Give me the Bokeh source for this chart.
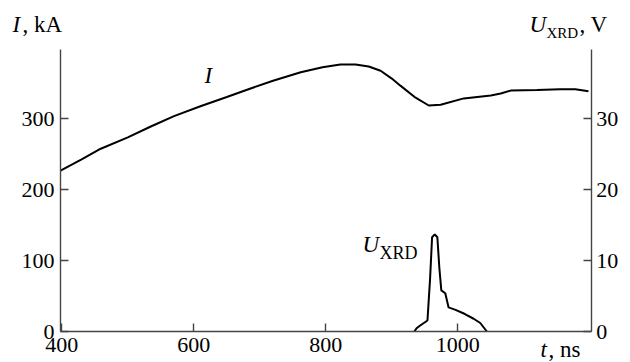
from bokeh.plotting import figure
from bokeh.models import Range1d, LinearAxis, FixedTicker, Label
from bokeh.embed import file_html
from bokeh.resources import INLINE

# Current I (kA) vs time t (ns)
t_I = [398, 430, 459, 500, 534, 570, 610, 650, 686, 720, 762, 795, 822, 845, 865, 883, 900, 913, 936, 956,
       974, 1009, 1050, 1065, 1080, 1120, 1155, 1178, 1198]
I_kA = [227, 243, 258, 274, 289, 304, 318, 331, 343, 354, 366, 373, 377, 377, 374, 368, 357, 347, 330, 319,
        320, 329, 333, 336, 340, 341, 342, 342, 339]

# XRD signal U (V) vs time t (ns)
t_U = [934, 938, 943, 954, 958, 961, 965, 969, 972, 975, 981, 986, 996.5, 1010, 1024, 1034, 1044]
U_V = [0, 0.5, 0.85, 1.55, 7.5, 13.3, 13.7, 13.3, 9.0, 5.8, 5.4, 3.4, 3.06, 2.5, 1.8, 1.2, 0]

x_ticks = [400, 600, 800, 1000]
yl_ticks = [0, 100, 200, 300]
yr_ticks = [0, 10, 20, 30]

FONT = "Liberation Serif"
X0, X1 = 398, 1202        # time axis extent
Y0, Y1 = 0, 398           # current axis extent (kA); voltage = /10

# frame covers the whole canvas; axes are fixed at their data positions
KX = 0.66                 # px per ns
KY = 0.7085               # px per kA
LEFT_PX, BOTTOM_PX = 60, 331
W, H = 630, 362
xr = Range1d(X0 - LEFT_PX / KX, X0 + (W - LEFT_PX) / KX)
yr = Range1d((BOTTOM_PX - H) / KY, BOTTOM_PX / KY)

p = figure(width=W, height=H, output_backend="svg", toolbar_location=None,
           x_range=xr, y_range=yr, x_axis_type=None, y_axis_type=None,
           min_border=0, min_border_left=0, min_border_right=0,
           min_border_top=0, min_border_bottom=0)
p.extra_y_ranges = {"u": Range1d(yr.start / 10, yr.end / 10)}
p.outline_line_color = None
p.background_fill_color = "white"
p.border_fill_color = "white"
p.title.visible = False

def style_axis(ax, ticks):
    ax.ticker = FixedTicker(ticks=ticks)
    ax.minor_tick_line_color = None
    ax.major_tick_in = 8
    ax.major_tick_out = 0
    ax.axis_line_color = "#444444"
    ax.axis_line_width = 1.4
    ax.major_tick_line_color = "#444444"
    ax.major_tick_line_width = 1.4
    ax.major_label_text_font = FONT
    ax.major_label_text_font_size = "22px"
    ax.major_label_text_color = "black"

xa = LinearAxis(fixed_location=0, bounds=(X0, X1))
style_axis(xa, x_ticks)
xa.major_label_standoff = 6
p.add_layout(xa, "below")

la = LinearAxis(fixed_location=X0, bounds=(Y0, Y1))
style_axis(la, yl_ticks)
la.major_label_standoff = 6
p.add_layout(la, "left")

ra = LinearAxis(y_range_name="u", fixed_location=X1, bounds=(Y0 / 10, Y1 / 10))
style_axis(ra, yr_ticks)
ra.major_label_standoff = 5
p.add_layout(ra, "right")

p.line(t_I, I_kA, line_color="black", line_width=2)
p.line(t_U, U_V, line_color="black", line_width=2, y_range_name="u")

# helper: pixel position in the 630x362 picture -> data coordinates
def px(x, y):
    return X0 + (x - LEFT_PX) / KX, (BOTTOM_PX - y) / KY

def lab(text, x, y, size=23, style="normal"):
    shift = size / 3.0  # rendered baseline sits this far below the requested one
    dx, dy = px(x, y - shift)
    p.add_layout(Label(x=dx, y=dy, text=text, text_font=FONT, text_font_size=f"{size}px",
                       text_font_style=style, text_color="black",
                       text_align="left", text_baseline="alphabetic"))

lab("I", 12, 32, style="italic")
lab(", kA", 22, 32)
lab("U", 529, 32, style="italic")
lab("XRD", 546, 37, size=15)
lab(", V", 579, 32)
lab("t", 540, 357, style="italic")
lab(", ns", 548, 357)
lab("I", 204, 83, style="italic")
lab("U", 362, 252, style="italic")
lab("XRD", 379, 258, size=18)

open("out.html", "w").write(file_html(p, INLINE))
